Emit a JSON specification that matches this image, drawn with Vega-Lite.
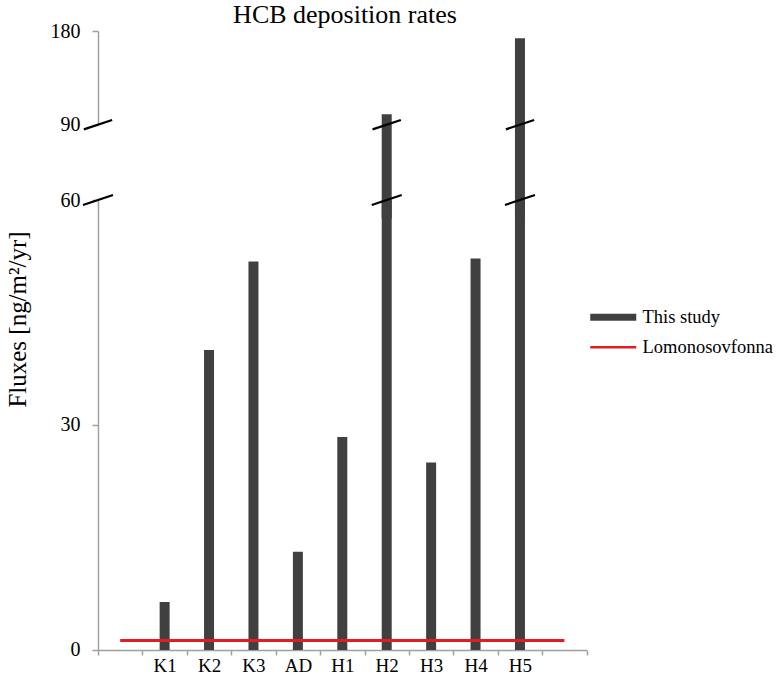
{
  "$schema": "https://vega.github.io/schema/vega-lite/v6.json",
  "background": "white",
  "padding": {"left": 5, "top": 2, "right": 0, "bottom": 5},
  "bounds": "flush",
  "spacing": 75,
  "title": {"text": "HCB deposition rates", "font": "Liberation Serif", "fontSize": 26, "fontWeight": "normal", "color": "black", "anchor": "middle", "dx": -45, "offset": -7},
  "config": {
    "view": {"stroke": null},
    "font": "Liberation Serif",
    "axis": {"labelFont": "Liberation Serif", "labelFontSize": 19, "labelColor": "black", "domainColor": "#a0a0a0", "tickColor": "#a0a0a0", "grid": false, "domainWidth": 1.5, "tickWidth": 1.5, "titleFont": "Liberation Serif", "titleColor": "black", "titleFontWeight": "normal"}
  },
  "datasets": {
    "fluxes": [
      {"site": "K1", "flux": 6.4, "series": "This study"},
      {"site": "K2", "flux": 40.0, "series": "This study"},
      {"site": "K3", "flux": 51.8, "series": "This study"},
      {"site": "AD", "flux": 13.1, "series": "This study"},
      {"site": "H1", "flux": 28.4, "series": "This study"},
      {"site": "H2", "flux": 100, "series": "This study"},
      {"site": "H3", "flux": 25.0, "series": "This study"},
      {"site": "H4", "flux": 52.2, "series": "This study"},
      {"site": "H5", "flux": 173, "series": "This study"}
    ],
    "reference": [
      {"site": "", "flux": 1.25, "series": "Lomonosovfonna"},
      {"site": " ", "flux": 1.25, "series": "Lomonosovfonna"}
    ],
    "axisStart": [{"site": ""}]
  },
  "vconcat": [
    {
      "width": 488.6,
      "height": 93.7,
      "layer": [
        {
          "data": {"name": "fluxes"},
          "transform": [{"filter": "datum.flux > 90"}],
          "mark": {"type": "bar", "width": 10, "color": "#404040"},
          "encoding": {
            "x": {"field": "site", "type": "nominal", "sort": null, "scale": {"domain": ["", "K1", "K2", "K3", "AD", "H1", "H2", "H3", "H4", "H5", " "], "paddingInner": 0, "paddingOuter": 0}, "axis": null},
            "y": {"field": "flux", "type": "quantitative", "scale": {"domain": [90, 180], "nice": false, "zero": false}, "axis": {"values": [90, 180], "title": null, "tickSize": 6, "labelPadding": 12, "labelFontSize": 20}}
          }
        },
        {
          "data": {"name": "fluxes"},
          "transform": [{"filter": "datum.flux > 90"}],
          "mark": {"type": "point", "shape": "M-1,0.33L1,-0.33", "size": 800, "filled": false, "stroke": "black", "strokeWidth": 2.2, "opacity": 1},
          "encoding": {
            "x": {"field": "site", "type": "nominal", "sort": null, "scale": {"domain": ["", "K1", "K2", "K3", "AD", "H1", "H2", "H3", "H4", "H5", " "], "paddingInner": 0, "paddingOuter": 0}},
            "y": {"datum": 90}
          }
        },
        {
          "data": {"name": "axisStart"},
          "mark": {"type": "point", "shape": "M-1,0.33L1,-0.33", "size": 800, "filled": false, "stroke": "black", "strokeWidth": 2.2, "opacity": 1},
          "encoding": {
            "x": {"field": "site", "type": "nominal", "sort": null, "bandPosition": 0, "scale": {"domain": ["", "K1", "K2", "K3", "AD", "H1", "H2", "H3", "H4", "H5", " "], "paddingInner": 0, "paddingOuter": 0}},
            "y": {"datum": 90}
          }
        }
      ]
    },
    {
      "width": 488.6,
      "height": 450,
      "layer": [
        {
          "data": {"name": "fluxes"},
          "mark": {"type": "bar", "width": 10},
          "encoding": {
            "x": {"field": "site", "type": "nominal", "sort": null, "scale": {"domain": ["", "K1", "K2", "K3", "AD", "H1", "H2", "H3", "H4", "H5", " "], "paddingInner": 0, "paddingOuter": 0}, "axis": {"title": null, "labelAngle": 0, "tickBand": "extent", "tickSize": 5, "labelPadding": 2}},
            "y": {"field": "flux", "type": "quantitative", "scale": {"domain": [0, 60], "nice": false, "clamp": true}, "axis": {"values": [0, 30, 60], "title": "Fluxes [ng/m²/yr]", "titleFontSize": 25, "titleX": -80, "titleY": 119, "titleBaseline": "middle", "titleAngle": -90, "tickSize": 6, "labelPadding": 12, "labelFontSize": 20}},
            "color": {"field": "series", "type": "nominal", "scale": {"domain": ["This study", "Lomonosovfonna"], "range": ["#404040", "#e31c23"]}, "legend": {"title": null, "orient": "none", "legendX": 506, "legendY": 277, "symbolType": "stroke", "symbolSize": 2116, "labelFont": "Liberation Serif", "labelFontSize": 18.5, "labelColor": "black", "labelOffset": 20, "padding": 0, "rowPadding": 6, "encode": {"symbols": {"update": {"strokeWidth": {"signal": "datum.value === 'This study' ? 7 : 2.5"}, "stroke": {"signal": "datum.value === 'This study' ? '#404040' : '#e31c23'"}, "fill": {"value": "transparent"}, "opacity": {"value": 1}}}}}}
          }
        },
        {
          "data": {"name": "reference"},
          "mark": {"type": "line", "strokeWidth": 3},
          "encoding": {
            "x": {"field": "site", "type": "nominal", "sort": null, "scale": {"domain": ["", "K1", "K2", "K3", "AD", "H1", "H2", "H3", "H4", "H5", " "], "paddingInner": 0, "paddingOuter": 0}},
            "y": {"field": "flux", "type": "quantitative"},
            "color": {"field": "series", "type": "nominal"}
          }
        },
        {
          "data": {"name": "fluxes"},
          "transform": [{"filter": "datum.flux > 60"}],
          "mark": {"type": "point", "shape": "M-1,0.33L1,-0.33", "size": 900, "filled": false, "stroke": "black", "strokeWidth": 2.2, "opacity": 1},
          "encoding": {
            "x": {"field": "site", "type": "nominal", "sort": null, "scale": {"domain": ["", "K1", "K2", "K3", "AD", "H1", "H2", "H3", "H4", "H5", " "], "paddingInner": 0, "paddingOuter": 0}},
            "y": {"datum": 60}
          }
        },
        {
          "data": {"name": "axisStart"},
          "mark": {"type": "point", "shape": "M-1,0.33L1,-0.33", "size": 900, "filled": false, "stroke": "black", "strokeWidth": 2.2, "opacity": 1},
          "encoding": {
            "x": {"field": "site", "type": "nominal", "sort": null, "bandPosition": 0, "scale": {"domain": ["", "K1", "K2", "K3", "AD", "H1", "H2", "H3", "H4", "H5", " "], "paddingInner": 0, "paddingOuter": 0}},
            "y": {"datum": 60}
          }
        }
      ]
    }
  ]
}
